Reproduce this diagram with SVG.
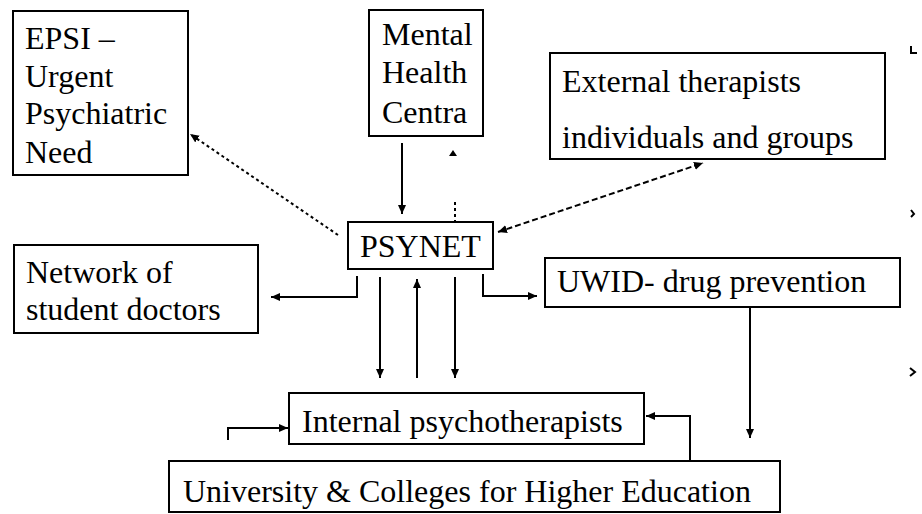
<svg xmlns="http://www.w3.org/2000/svg" width="922" height="514" viewBox="0 0 922 514">
<style>
.box{fill:none;stroke:#000;stroke-width:2}
.t{font-family:'Liberation Serif','DejaVu Serif',serif;font-size:32px;fill:#000}
.c{fill:none;stroke:#000;stroke-width:2}
.d{fill:none;stroke:#000;stroke-width:2;stroke-dasharray:3 3}
.d2{fill:none;stroke:#000;stroke-width:2;stroke-dasharray:6 3}
.mk{fill:none;stroke:#000;stroke-width:2}
</style>
<defs>
<marker id="ah" markerUnits="userSpaceOnUse" markerWidth="10" markerHeight="10" refX="9" refY="4" orient="auto">
<path d="M0,0 L9,4 L0,8 z" fill="#000"/>
</marker>
<marker id="ahs" markerUnits="userSpaceOnUse" markerWidth="10" markerHeight="10" refX="9" refY="4" orient="auto-start-reverse">
<path d="M0,0 L9,4 L0,8 z" fill="#000"/>
</marker>
</defs>
<rect width="922" height="514" fill="#fff"/>
<g id="connectors">
<path class="c" d="M402,143 V214" marker-end="url(#ah)"/>
<path class="d" d="M338,235 L190,134" marker-end="url(#ah)"/>
<path class="d2" d="M498,232 L703,163" marker-start="url(#ahs)" marker-end="url(#ah)"/>
<path class="c" d="M357,276 V297 H271" marker-end="url(#ah)"/>
<path class="c" d="M483,274 V296 H537" marker-end="url(#ah)"/>
<path class="c" d="M380,277 V378" marker-end="url(#ah)"/>
<path class="c" d="M417,378 V279" marker-end="url(#ah)"/>
<path class="c" d="M455,277 V378" marker-end="url(#ah)"/>
<path class="c" d="M228,440 V428 H288" marker-end="url(#ah)"/>
<path class="c" d="M690,460 V416 H646" marker-end="url(#ah)"/>
<path class="c" d="M750,308 V438" marker-end="url(#ah)"/>
<path class="d" d="M455,202 V222"/>
<path d="M449,156 L453,150 L457,156 z" fill="#000"/>
<path class="mk" d="M911,46 V53 H917 M911,210 L914,214 L911,217 M910,368 L915,372 L910,376"/>
</g>
<g id="epsi">
<rect class="box" x="13" y="11" width="175" height="164"/>
<text class="t" x="25" y="49">EPSI –</text>
<text class="t" x="25" y="87">Urgent</text>
<text class="t" x="25" y="124">Psychiatric</text>
<text class="t" x="25" y="163">Need</text>
</g>
<g id="mental-health">
<rect class="box" x="369" y="10" width="114" height="126"/>
<text class="t" x="382" y="45">Mental</text>
<text class="t" x="382" y="83">Health</text>
<text class="t" x="382" y="123">Centra</text>
</g>
<g id="external">
<rect class="box" x="550" y="53" width="335" height="106"/>
<text class="t" x="562" y="92">External therapists</text>
<text class="t" x="562" y="148">individuals and groups</text>
</g>
<g id="psynet">
<rect class="box" x="348" y="222" width="145" height="47"/>
<text class="t" x="360" y="257">PSYNET</text>
</g>
<g id="network">
<rect class="box" x="14" y="245" width="244" height="88"/>
<text class="t" x="26" y="283">Network of</text>
<text class="t" x="26" y="320">student doctors</text>
</g>
<g id="uwid">
<rect class="box" x="545" y="258" width="355" height="49"/>
<text class="t" x="557" y="292">UWID- drug prevention</text>
</g>
<g id="internal">
<rect class="box" x="289" y="393" width="355" height="51"/>
<text class="t" x="302" y="432">Internal psychotherapists</text>
</g>
<g id="university">
<rect class="box" x="169" y="461" width="611" height="51"/>
<text class="t" x="183" y="502">University &amp; Colleges for Higher Education</text>
</g>
</svg>
